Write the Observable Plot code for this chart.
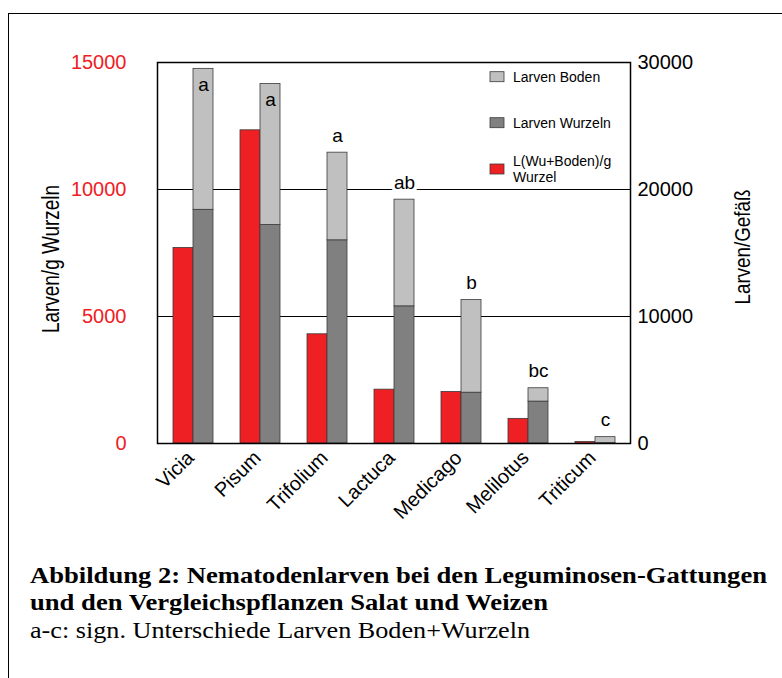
<!DOCTYPE html>
<html>
<head>
<meta charset="utf-8">
<script src="https://cdn.jsdelivr.net/npm/d3@7"></script>
<script src="https://cdn.jsdelivr.net/npm/@observablehq/plot@0.6"></script>
<style>
  html, body { margin: 0; padding: 0; background: #fff; width: 782px; height: 678px; overflow: hidden; }
  #wrap { position: relative; width: 782px; height: 678px; }
  #border { position: absolute; left: 8px; top: 13px; width: 800px; height: 700px;
            border-left: 1.5px solid #000; border-top: 1.5px solid #000; box-sizing: border-box; }
  #chart { position: absolute; left: 0; top: 0; }
  #caption { position: absolute; left: 0; top: 540px; }
  svg { display: block; }
</style>
</head>
<body>
<div id="wrap">
  <div id="border"></div>
  <div id="chart"></div>
  <svg id="caption" width="782" height="138"></svg>
</div>
<script>
// ---- data ----
const categories = ["Vicia", "Pisum", "Trifolium", "Lactuca", "Medicago", "Melilotus", "Triticum"];
const larvenProGWurzel = [7700, 12330, 4300, 2120, 2030, 970, 60];      // left axis: Larven/g Wurzeln
const larvenWurzeln    = [18400, 17200, 16000, 10800, 4000, 3300, 30];  // right axis: Larven/Gefäß
const larvenBoden      = [11100, 11100, 6900, 8400, 7300, 1050, 470];   // right axis: Larven/Gefäß
const sigLetters       = ["a", "a", "a", "ab", "b", "bc", "c"];
const leftTicks  = [0, 5000, 10000, 15000];
const rightTicks = [0, 10000, 20000, 30000];
const legendLabels = ["Larven Boden", "Larven Wurzeln", "L(Wu+Boden)/g\nWurzel"];
const captionLines = [
  "Abbildung 2: Nematodenlarven bei den Leguminosen-Gattungen",
  "und den Vergleichspflanzen Salat und Weizen",
  "a-c: sign. Unterschiede Larven Boden+Wurzeln"
];

const RED = "#ee2024", DARK = "#808080", LIGHT = "#c0c0c0", EDGE = "#3a3a3a";
const SANS = "'Liberation Sans', Arial, Helvetica, sans-serif";

// right axis (Larven/Gefäß) is twice the left axis
const ratio = rightTicks[3] / leftTicks[3];

const rows = categories.map((c, i) => ({
  cat: c,
  red: larvenProGWurzel[i],
  wu: larvenWurzeln[i],
  bo: larvenBoden[i],
  total: larvenWurzeln[i] + larvenBoden[i],
  sig: sigLetters[i]
}));

const plot = Plot.plot({
  width: 782,
  height: 540,
  marginLeft: 157,
  marginRight: 152,
  marginTop: 62,
  marginBottom: 97,
  style: { fontFamily: SANS, background: "transparent" },
  x: { domain: categories, paddingInner: 0.4074, paddingOuter: 0.207, align: 0.5, axis: null },
  y: { domain: [0, leftTicks[3]], axis: null },
  marks: [
    Plot.ruleY([leftTicks[1], leftTicks[2]], { stroke: "#000", strokeWidth: 1 }),
    Plot.barY(rows, { x: "cat", y: "red", fill: RED, stroke: EDGE, strokeWidth: 0.8, insetRight: 20 }),
    Plot.barY(rows, { x: "cat", y1: 0, y2: d => d.wu / ratio, fill: DARK, stroke: EDGE, strokeWidth: 0.8, insetLeft: 20 }),
    Plot.barY(rows, { x: "cat", y1: d => d.wu / ratio, y2: d => d.total / ratio, fill: LIGHT, stroke: EDGE, strokeWidth: 0.8, insetLeft: 20 }),
    // significance letters above the bars
    Plot.text(rows.filter(d => d.total / ratio < 13500), {
      x: "cat", y: d => d.total / ratio, text: "sig", dx: 10, dy: -17,
      fontSize: 19, fill: "#000", stroke: "#fff", strokeWidth: 7, fontFamily: SANS
    }),
    // inside the tallest bars
    Plot.text(rows.filter(d => d.total / ratio >= 13500), {
      x: "cat", y: d => d.total / ratio, text: "sig", dx: 10, dy: 16,
      fontSize: 19, fill: "#000", fontFamily: SANS
    }),
    Plot.frame({ stroke: "#000", strokeWidth: 1.5 }),
    Plot.axisY({ anchor: "left", ticks: leftTicks, tickSize: 0, tickPadding: 31, fontSize: 20,
                 color: RED, tickFormat: d => String(d), label: null }),
    Plot.axisY({ anchor: "right", ticks: leftTicks, tickSize: 0, tickPadding: 7, fontSize: 20,
                 color: "#000", tickFormat: d => String(d * ratio), label: null }),
    Plot.axisX({ anchor: "bottom", tickRotate: -45, tickSize: 0, tickPadding: 11, fontSize: 20,
                 dx: -3, color: "#000", label: null }),
    Plot.text(["Larven/g Wurzeln"], { text: d => d, frameAnchor: "left", textAnchor: "middle",
                 dx: -106, dy: 6, rotate: -90,
                 fontSize: 23, fontFamily: SANS, fill: "#000", className: "ylab-left" }),
    Plot.text(["Larven/Gefäß"], { text: d => d, frameAnchor: "right", textAnchor: "middle",
                 dx: 112, dy: -6, rotate: -90,
                 fontSize: 22, fontFamily: SANS, fill: "#000", className: "ylab-right" })
  ]
});

document.getElementById("chart").appendChild(plot);

// squeeze the axis titles to the narrow look of the reference
d3.select(plot).selectAll(".ylab-left text").attr("textLength", 148).attr("lengthAdjust", "spacingAndGlyphs");
d3.select(plot).selectAll(".ylab-right text").attr("textLength", 115).attr("lengthAdjust", "spacingAndGlyphs");

// legend inside the frame (top right)
const svg = d3.select(plot);
const frameRight = 782 - 152, frameTop = 62;
const lg = svg.append("g")
  .style("font-family", SANS).style("font-size", "14px").attr("text-anchor", "start");
const swatchFills = [LIGHT, DARK, RED];
const rowY = [14.7, 60.7, 107];
legendLabels.forEach((lab, i) => {
  const y = frameTop + rowY[i];
  lg.append("rect").attr("x", frameRight - 140).attr("y", y - 5).attr("width", 14).attr("height", 10)
    .attr("fill", swatchFills[i]).attr("stroke", EDGE).attr("stroke-width", 0.8);
  const lines = lab.split("\n");
  const t = lg.append("text").attr("x", frameRight - 117).attr("fill", "#000")
    .attr("text-anchor", "start")
    .style("font-family", SANS).style("font-size", "14px");
  lines.forEach((ln, j) => {
    t.append("tspan").attr("x", frameRight - 117)
      .attr("y", y + (j - (lines.length - 1) / 2) * 16)
      .attr("dy", "0.35em").text(ln);
  });
});

// caption
const cap = d3.select("#caption");
const capBase = [43, 70, 98];
const capLen = [737, 518, 500];
captionLines.forEach((ln, i) => {
  cap.append("text")
    .attr("x", 30).attr("y", capBase[i])
    .attr("font-family", "'Liberation Serif', 'Times New Roman', Times, serif")
    .attr("font-weight", i < 2 ? "bold" : "normal")
    .attr("font-size", 23)
    .attr("textLength", capLen[i]).attr("lengthAdjust", "spacingAndGlyphs")
    .attr("fill", "#000")
    .text(ln);
});
</script>
</body>
</html>
